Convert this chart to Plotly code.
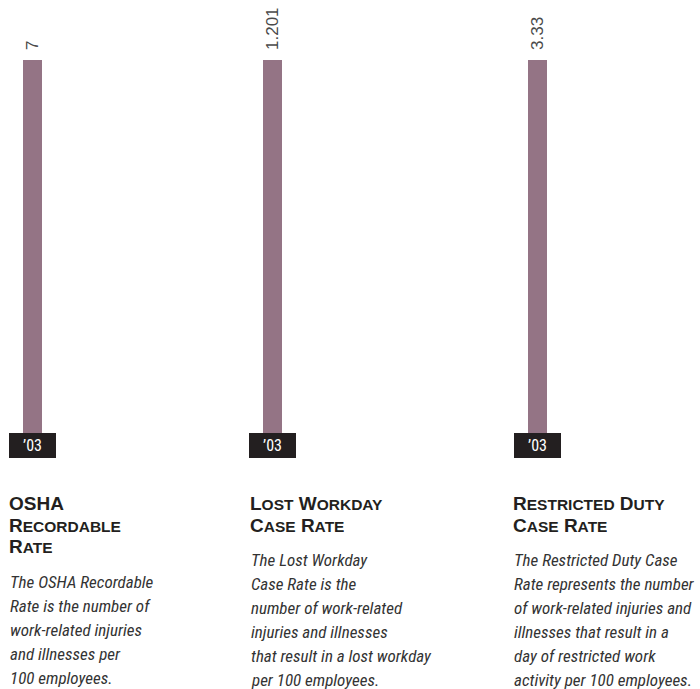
import plotly.graph_objects as go

# Safety rates, one panel per metric
years = ["’03"]
values = [7, 1.201, 3.33]
value_labels = ["7", "1.201", "3.33"]
title_lines = [
    ["OSHA", "Recordable", "Rate"],
    ["Lost Workday", "Case Rate"],
    ["Restricted Duty", "Case Rate"],
]
descriptions = [
    ["The OSHA Recordable", "Rate is the number of", "work-related injuries",
     "and illnesses per", "100 employees."],
    ["The Lost Workday", "Case Rate is the", "number of work-related",
     "injuries and illnesses", "that result in a lost workday", "per 100 employees."],
    ["The Restricted Duty Case", "Rate represents the number", "of work-related injuries and",
     "illnesses that result in a", "day of restricted work", "activity per 100 employees."],
]

W, H = 700, 689
BAR_COLOR = "#947485"
BOX_COLOR = "#231f20"
NARROW = "Liberation Sans Narrow, Roboto Condensed, Liberation Sans, sans-serif"
HEAD = "Liberation Sans, Arial, sans-serif"

# pixel layout of each panel: left edge of the year box / text column
panel_left = [9, 249, 514]
text_left = [9, 250, 513]
box_w = 47
bar_top, bar_bottom = 60, 433


def py(p):
    return 1 - p / H


def small_caps(text, small=15.5):
    """Upper-case letters stay full size, lower-case ones become smaller capitals."""
    out, run = [], ""
    for ch in text:
        if ch.islower():
            run += ch.upper()
        else:
            if run:
                out.append(f"<span style='font-size:{small}px'>{run}</span>")
                run = ""
            out.append(ch)
    if run:
        out.append(f"<span style='font-size:{small}px'>{run}</span>")
    return "".join(out)


fig = go.Figure()
annotations = []

for i in range(3):
    ax = "" if i == 0 else str(i + 1)
    fig.add_trace(go.Bar(
        x=years, y=[values[i]],
        marker=dict(color=BAR_COLOR, line=dict(width=0)),
        width=19 / box_w,
        xaxis="x" + ax, yaxis="y" + ax,
        hoverinfo="skip", showlegend=False,
    ))
    fig.update_layout(**{
        "xaxis" + ax: dict(domain=[panel_left[i] / W, (panel_left[i] + box_w) / W],
                           range=[-0.5, 0.5], visible=False, anchor="y" + ax),
        "yaxis" + ax: dict(domain=[py(bar_bottom), py(bar_top)],
                           range=[0, values[i]], visible=False, anchor="x" + ax),
    })
    xr, yr = "x" + ax, "y" + ax

    # value label above the bar
    annotations.append(dict(
        x=years[0], y=values[i], xref=xr, yref=yr,
        text=value_labels[i], textangle=-90, showarrow=False,
        xanchor="center", yanchor="bottom", yshift=8,
        font=dict(family="Liberation Sans, Arial, sans-serif", size=17, color="#4a4a4a"),
    ))
    # year tag under the bar
    annotations.append(dict(
        x=years[0], y=0, xref=xr, yref=yr,
        text=years[0], showarrow=False,
        xanchor="center", yanchor="top",
        width=box_w, height=25, borderpad=0, borderwidth=0,
        bgcolor=BOX_COLOR,
        font=dict(family=NARROW, size=16, color="#ffffff"),
    ))
    # panel heading in small caps
    for j, line in enumerate(title_lines[i]):
        annotations.append(dict(
            x=text_left[i] / W, y=py(503.5 + 21.5 * j), xref="paper", yref="paper",
            text=small_caps(line), showarrow=False, xanchor="left", yanchor="middle",
            xshift=-1, height=21, borderpad=0,
            font=dict(family=HEAD, size=19, color="#231f20", weight="bold"),
        ))
    # italic description
    start = 503 + 21.5 * (len(title_lines[i]) - 1) + 35.5
    for j, line in enumerate(descriptions[i]):
        annotations.append(dict(
            x=text_left[i] / W, y=py(start + 24 * j), xref="paper", yref="paper",
            text=line, showarrow=False, xanchor="left", yanchor="middle", xshift=-1,
            font=dict(family=NARROW, size=17, color="#333333", style="italic"),
        ))

fig.update_layout(
    width=W, height=H,
    margin=dict(l=0, r=0, t=0, b=0),
    paper_bgcolor="white", plot_bgcolor="white",
    annotations=annotations,
    bargap=0,
)

fig.write_html("out.html")
